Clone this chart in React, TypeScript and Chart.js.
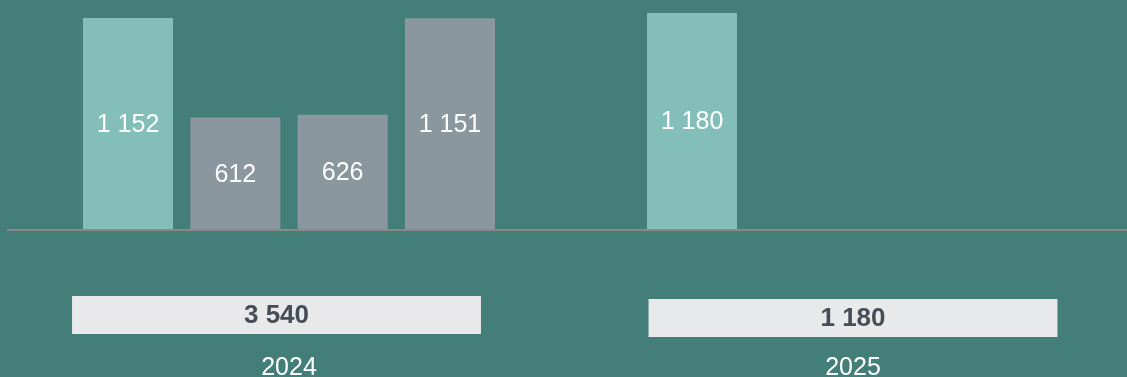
import React, { useEffect, useRef } from "react";
import { Chart, registerables } from "chart.js";

Chart.register(...registerables);

// ---- data ----
const years = ["2024", "2025"];
const quarters = ["T1", "T2", "T3", "T4"];
const q1Values = [1152, 1180];
const q2Values = [612, null];
const q3Values = [626, null];
const q4Values = [1151, null];
const totals = [3540, 1180];

// ---- styles ----
const BG = "#437f78";
const TEAL = "#83bfb8";
const GREY = "#8a979e";
const LINE = "#898989";
const BOX = "#e8e9eb";
const BOX_TEXT = "#464d56";
const FONT = '"Liberation Sans", Arial, sans-serif';
const boxShiftX = [-12.5, 0];
const boxGapY = [66, 69];

const fmt = (v: number) => String(v).replace(/\B(?=(\d{3})+(?!\d))/g, " ");

const overlay = {
  id: "overlay",
  afterDatasetsDraw(chart: any) {
    const ctx = chart.ctx;
    const area = chart.chartArea;
    const xs = chart.scales.x;
    ctx.save();
    // baseline
    ctx.strokeStyle = LINE;
    ctx.lineWidth = 2;
    ctx.beginPath();
    ctx.moveTo(area.left, area.bottom);
    ctx.lineTo(chart.width, area.bottom);
    ctx.stroke();

    // value labels inside bars
    ctx.fillStyle = "#ffffff";
    ctx.font = `25px ${FONT}`;
    ctx.textAlign = "center";
    ctx.textBaseline = "middle";
    chart.data.datasets.forEach((ds: any, di: number) => {
      const meta = chart.getDatasetMeta(di);
      meta.data.forEach((el: any, i: number) => {
        const v = ds.data[i];
        if (v === null || v === undefined) return;
        ctx.fillText(fmt(v), el.x, (el.y + el.base) / 2 + 1);
      });
    });

    // totals boxes + year labels
    const catW = xs.getPixelForValue(1) - xs.getPixelForValue(0);
    const boxW = catW * 0.725;
    const boxH = 38;
    years.forEach((yr, i) => {
      const cx = xs.getPixelForValue(i);
      const bx = cx + boxShiftX[i] - boxW / 2;
      const by = area.bottom + boxGapY[i];
      ctx.fillStyle = BOX;
      ctx.fillRect(bx, by, boxW, boxH);
      ctx.fillStyle = BOX_TEXT;
      ctx.font = `bold 26px ${FONT}`;
      ctx.textAlign = "center";
      ctx.textBaseline = "middle";
      ctx.fillText(fmt(totals[i]), bx + boxW / 2, by + boxH / 2 + 1);

      ctx.fillStyle = "#ffffff";
      ctx.font = `25px ${FONT}`;
      ctx.textBaseline = "alphabetic";
      ctx.fillText(yr, cx, 375);
    });
    ctx.restore();
  },
};

export default function App() {
  const ref = useRef<HTMLCanvasElement | null>(null);

  useEffect(() => {
    document.body.style.margin = "0";
    document.body.style.background = BG;
    const canvas = ref.current;
    if (!canvas) return;
    const series = [q1Values, q2Values, q3Values, q4Values];
    const chart = new Chart(canvas, {
      type: "bar",
      data: {
        labels: years,
        datasets: quarters.map((q, i) => ({
          label: q,
          data: series[i],
          backgroundColor: i === 0 ? TEAL : GREY,
          borderWidth: 0,
          categoryPercentage: 0.7612,
          barPercentage: 0.8385,
        })),
      },
      options: {
        responsive: false,
        animation: false,
        layout: { padding: { left: 7, right: 0, top: 0, bottom: 147 } },
        plugins: {
          legend: { display: false },
          tooltip: { enabled: false },
        },
        scales: {
          x: { display: false, offset: true },
          y: { display: false, min: 0, max: 1250 },
        },
      },
      plugins: [overlay],
    });
    return () => chart.destroy();
  }, []);

  return (
    <div
      style={{
        position: "fixed",
        left: 0,
        top: 0,
        width: 1127,
        height: 377,
        overflow: "hidden",
        background: BG,
      }}
    >
      <canvas ref={ref} width={1135} height={377} style={{ display: "block", width: 1135, height: 377 }} />
    </div>
  );
}
